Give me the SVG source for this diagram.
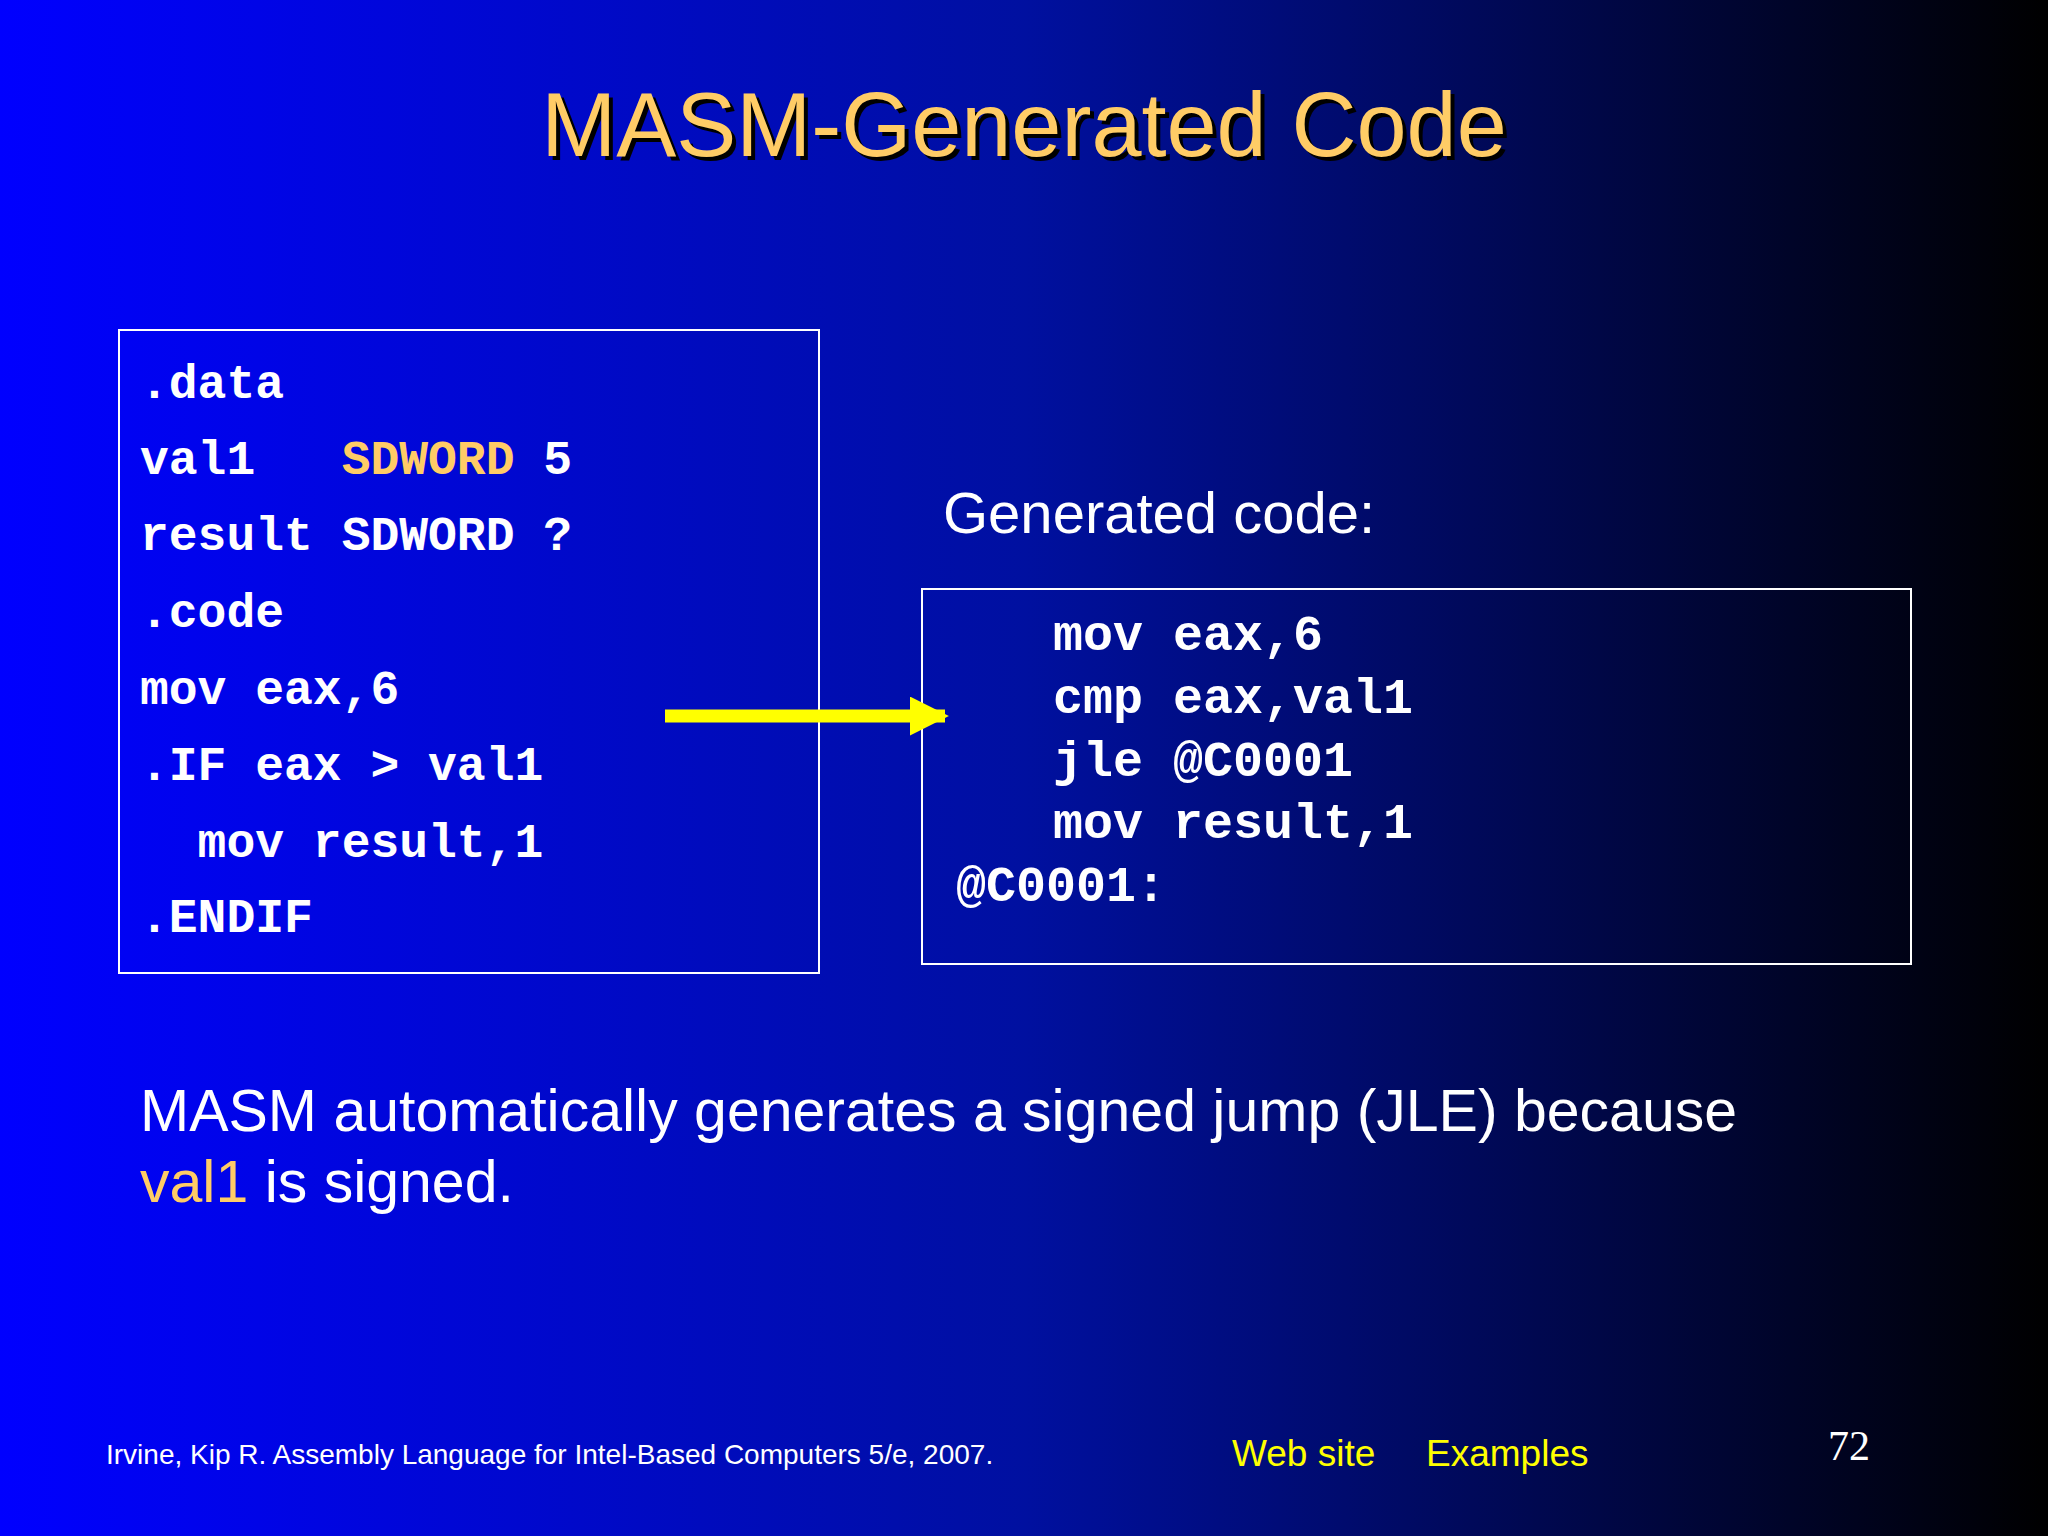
<svg xmlns="http://www.w3.org/2000/svg" width="2048" height="1536" viewBox="0 0 2048 1536">
<defs>
<linearGradient id="bg" x1="0" y1="0" x2="1" y2="0">
<stop offset="0" stop-color="#0000FF"/><stop offset="0.5" stop-color="#0010A0"/><stop offset="1" stop-color="#000000"/>
</linearGradient>
<marker id="ah" viewBox="0 0 10 10" refX="9" refY="5" markerWidth="3" markerHeight="3" orient="auto"><path d="M0,0 L10,5 L0,10 z" fill="#FFFF00"/></marker>
</defs>
<style>
.code{font-family:"Liberation Mono",monospace;font-weight:bold;fill:#fff}
.sans{font-family:"Liberation Sans",Arial,sans-serif;fill:#fff}
.box{fill:none;stroke:#fff;stroke-width:2}
</style>
<rect width="2048" height="1536" fill="url(#bg)"/>
<g id="title" font-family="Liberation Sans, Arial, sans-serif" font-size="90" text-anchor="middle">
<text x="1028" y="160" fill="#000">MASM-Generated Code</text>
<text x="1024" y="156" fill="#FFCC66">MASM-Generated Code</text>
</g>
<g id="source">
<rect class="box" x="119" y="330" width="700" height="643"/>
<g class="code" font-size="48">
<text x="140" y="398">.data</text>
<text x="140" y="474" xml:space="preserve">val1   <tspan fill="#FFCC66">SDWORD</tspan> 5</text>
<text x="140" y="550">result SDWORD ?</text>
<text x="140" y="627">.code</text>
<text x="140" y="704">mov eax,6</text>
<text x="140" y="780">.IF eax &gt; val1</text>
<text x="140" y="857" xml:space="preserve">  mov result,1</text>
<text x="140" y="932">.ENDIF</text>
</g>
</g>
<g id="label"><text class="sans" x="943" y="533" font-size="58">Generated code:</text></g>
<g id="generated">
<rect class="box" x="922" y="589" width="989" height="375"/>
<g class="code" font-size="50">
<text x="1053" y="650">mov eax,6</text>
<text x="1053" y="713">cmp eax,val1</text>
<text x="1053" y="776">jle @C0001</text>
<text x="1053" y="838">mov result,1</text>
<text x="956" y="901">@C0001:</text>
</g>
</g>
<g id="connectors">
<line x1="665" y1="716" x2="945" y2="716" stroke="#FFFF00" stroke-width="13" marker-end="url(#ah)"/>
</g>
<g id="note" class="sans" font-size="59">
<text x="140" y="1131">MASM automatically generates a signed jump (JLE) because</text>
<text x="140" y="1202"><tspan fill="#FFCC66">val1</tspan> is signed.</text>
</g>
<g id="footer">
<text class="sans" x="106" y="1464" font-size="28">Irvine, Kip R. Assembly Language for Intel-Based Computers 5/e, 2007.</text>
<text x="1232" y="1466" font-size="37" font-family="Liberation Sans, Arial, sans-serif" fill="#FFFF00">Web site</text>
<text x="1426" y="1466" font-size="37" font-family="Liberation Sans, Arial, sans-serif" fill="#FFFF00">Examples</text>
<text x="1828" y="1460" font-size="42" font-family="Liberation Serif, serif" fill="#fff">72</text>
</g>
</svg>
